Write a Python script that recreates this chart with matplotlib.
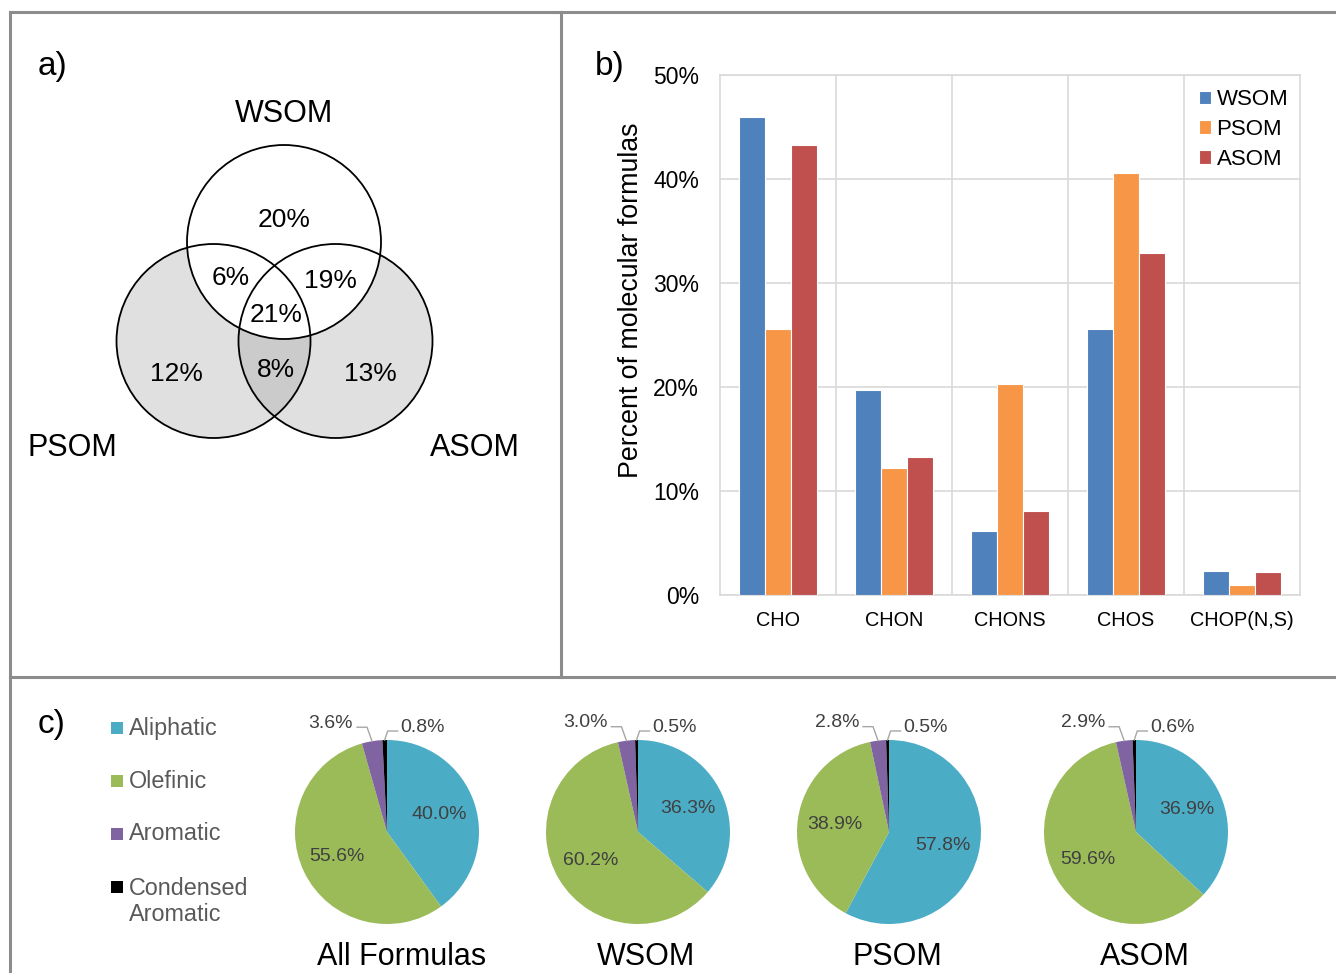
import numpy as np
import matplotlib
matplotlib.use('Agg')
import matplotlib.pyplot as plt
from matplotlib.patches import Circle
from matplotlib.ticker import FuncFormatter, FixedLocator

plt.rcParams['font.family'] = ['Liberation Sans', 'DejaVu Sans']

# panel a: overlap of formulas between the three fractions
venn_names = ['WSOM', 'PSOM', 'ASOM']
venn_labels = ['20%', '6%', '19%', '21%', '12%', '8%', '13%']

# panel b: formula classes
classes = ['CHO', 'CHON', 'CHONS', 'CHOS', 'CHOP(N,S)']
wsom = [46.0, 19.7, 6.2, 25.6, 2.3]
psom = [25.6, 12.2, 20.3, 40.6, 1.0]
asom = [43.3, 13.3, 8.1, 32.9, 2.2]

# panel c: compound types
types = ['Aliphatic', 'Olefinic', 'Aromatic', 'Condensed\nAromatic']
type_colors = ['#4BACC6', '#9BBB59', '#8064A2', '#000000']
pie_titles = ['All Formulas', 'WSOM', 'PSOM', 'ASOM']
pie_values = [
    [40.0, 55.6, 3.6, 0.8],
    [36.3, 60.2, 3.0, 0.5],
    [57.8, 38.9, 2.8, 0.5],
    [36.9, 59.6, 2.9, 0.6],
]

W, H = 1336, 973
fig = plt.figure(figsize=(W / 100, H / 100), dpi=100)

# background axes in pixel units for frames, venn and free text
base = fig.add_axes([0, 0, 1, 1])
base.set_xlim(0, W)
base.set_ylim(H, 0)
base.axis('off')

frame = dict(color='#8C8C8C', lw=2.2, solid_capstyle='projecting')
base.plot([10, W], [12, 12], **frame)
base.plot([10, 10], [12, H], **frame)
base.plot([561, 561], [12, 677], **frame)
base.plot([10, W], [677, 677], **frame)

base.text(38, 66, 'a)', fontsize=24, va='center')
base.text(595, 66, 'b)', fontsize=24, va='center')
base.text(38, 725, 'c)', fontsize=24, va='center')

# venn diagram
r = 97
cw, cp, ca = (284, 242), (213.5, 341), (335.5, 341)
p_circ = Circle(cp, r, facecolor='#E0E0E0', edgecolor='none')
a_circ = Circle(ca, r, facecolor='#E0E0E0', edgecolor='none')
base.add_patch(p_circ)
base.add_patch(a_circ)
lens = Circle(ca, r, facecolor='#CBCBCB', edgecolor='none')
base.add_patch(lens)
lens.set_clip_path(p_circ)
base.add_patch(Circle(cw, r, facecolor='white', edgecolor='none'))
for c in (cw, cp, ca):
    base.add_patch(Circle(c, r, facecolor='none', edgecolor='black', lw=1.3))

base.text(284, 114, venn_names[0], fontsize=22, ha='center', va='center')
base.text(72, 448, venn_names[1], fontsize=22, ha='center', va='center')
base.text(475, 448, venn_names[2], fontsize=22, ha='center', va='center')
venn_pos = [(284, 220), (231, 278), (330, 281), (276, 315),
            (176, 374), (276, 370), (370, 374)]
for (x, y), s in zip(venn_pos, venn_labels):
    base.text(x, y, s, fontsize=19, ha='center', va='center')

# bar chart
ax = fig.add_axes([720 / W, 1 - 595 / H, 580 / W, 520 / H])
x = np.arange(len(classes))
bw = 0.22
off = 0.225
ax.bar(x - off, wsom, bw, color='#4F81BD', edgecolor='white', lw=0.8, label='WSOM', zorder=3)
ax.bar(x, psom, bw, color='#F79646', edgecolor='white', lw=0.8, label='PSOM', zorder=3)
ax.bar(x + off, asom, bw, color='#C0504D', edgecolor='white', lw=0.8, label='ASOM', zorder=3)
ax.set_xlim(-0.5, len(classes) - 0.5)
ax.set_ylim(0, 50)
ax.set_yticks(range(0, 51, 10))
ax.yaxis.set_major_formatter(FuncFormatter(lambda v, p: '%d%%' % v))
ax.set_xticks(x)
ax.set_xticklabels(classes, fontsize=14.3)
ax.xaxis.set_minor_locator(FixedLocator(np.arange(0.5, len(classes) - 0.5, 1)))
ax.grid(axis='y', color='#D9D9D9', lw=1.2, zorder=0)
ax.grid(axis='x', which='minor', color='#D9D9D9', lw=1.2, zorder=0)
ax.tick_params(axis='both', which='both', length=0)
ax.tick_params(axis='y', labelsize=16.5, pad=15)
ax.tick_params(axis='x', pad=11.5)
for sp in ax.spines.values():
    sp.set_color('#D9D9D9')
    sp.set_linewidth(1.2)
ax.set_ylabel('Percent of molecular formulas', fontsize=19.3)
ax.yaxis.set_label_coords(-0.131, 0.567)
ax.legend(loc='upper left', bbox_to_anchor=(0.81, 0.99), frameon=False,
          fontsize=16, handlelength=0.55, handleheight=0.55, handletextpad=0.25,
          labelspacing=0.4, borderaxespad=0)

# pies
pie_cx = [387, 638, 889, 1136]
pie_cy = 832
rad = 92
half = 150
L = half / rad
title_x = [402, 646, 897, 1145]
txt_gray = '#404040'
lead_gray = '#A6A6A6'
for cx, vals, title, tx in zip(pie_cx, pie_values, pie_titles, title_x):
    pa = fig.add_axes([(cx - half) / W, 1 - (pie_cy + half) / H, 2 * half / W, 2 * half / H])
    wedges, _ = pa.pie(vals, colors=type_colors, startangle=90, counterclock=False,
                       radius=1, wedgeprops=dict(linewidth=0))
    pa.set_xlim(-L, L)
    pa.set_ylim(-L, L)
    pa.set_aspect('equal')
    pa.axis('off')
    mids = [np.deg2rad((w.theta1 + w.theta2) / 2) for w in wedges]
    # values inside the two large slices
    for i in (0, 1):
        pa.text(0.6 * np.cos(mids[i]), 0.6 * np.sin(mids[i]), '%.1f%%' % vals[i],
                fontsize=14, color=txt_gray, ha='center', va='center')
    px = 1.0 / rad
    # aromatic label, leader to the left
    ex, ey = np.cos(mids[2]), np.sin(mids[2])
    pa.plot([ex, ex - 5 * px, ex - 15 * px], [ey, ey + 14 * px, ey + 14 * px],
            color=lead_gray, lw=1)
    pa.text(ex - 19 * px, ey + 18 * px, '%.1f%%' % vals[2], fontsize=14,
            color=txt_gray, ha='right', va='center')
    # condensed aromatic label, leader to the right
    ex, ey = np.cos(mids[3]), np.sin(mids[3])
    pa.plot([ex, ex + 3 * px, ex + 13 * px], [ey, ey + 9 * px, ey + 9 * px],
            color=lead_gray, lw=1)
    pa.text(ex + 16 * px, ey + 13 * px, '%.1f%%' % vals[3], fontsize=14,
            color=txt_gray, ha='left', va='center')
    base.text(tx, 957, title, fontsize=22, ha='center', va='center')

# legend of compound types
leg_y = [728, 781, 834, 887]
for y, lab, col in zip(leg_y, types, type_colors):
    base.scatter([117], [y], marker='s', s=85, color=col, edgecolors='none')
    if '\n' in lab:
        base.text(129, y - 10, lab, fontsize=16.8, color='#595959', va='top',
                  linespacing=1.15)
    else:
        base.text(129, y, lab, fontsize=16.8, color='#595959', va='center')

fig.savefig('out.png', dpi=100)
